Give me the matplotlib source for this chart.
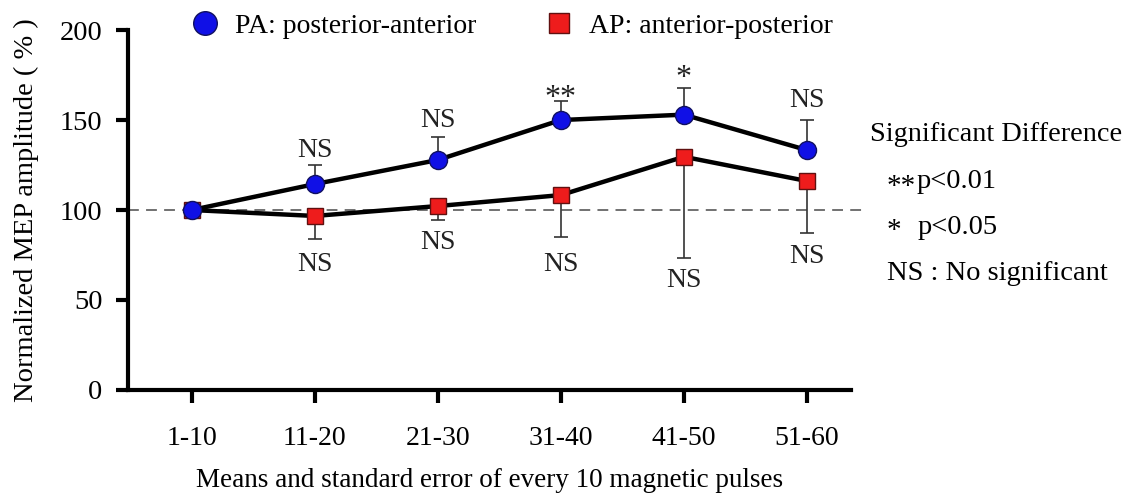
import matplotlib
matplotlib.use("Agg")
import matplotlib.pyplot as plt
from matplotlib.lines import Line2D
import numpy as np

plt.rcParams['font.family'] = ['Liberation Serif', 'DejaVu Serif']

categories = ["1-10", "11-20", "21-30", "31-40", "41-50", "51-60"]
pa_mean = [100, 114.4, 127.8, 150.0, 153.0, 133.3]
pa_err = [0, 10.6, 12.7, 10.5, 15.0, 17.0]
ap_mean = [100, 96.7, 102.2, 108.3, 129.6, 116.1]
ap_err = [0, 12.9, 7.8, 23.1, 56.1, 29.1]
pa_labels = ["", "NS", "NS", "**", "*", "NS"]
ap_labels = ["", "NS", "NS", "NS", "NS", "NS"]
pa_label_y = [None, 133, 150, 162, 173, 161]
ap_label_y = [None, 70, 82, 70, 61, 74]

fig = plt.figure(figsize=(11.29, 4.93), dpi=100)
ax = fig.add_axes([0.113, 0.209, 0.641, 0.730])
x = np.arange(len(categories))

ax.axhline(100, color='#666666', ls=(0, (6, 4)), lw=1.3, zorder=1, clip_on=False, xmax=1.015)

ax.errorbar(x, pa_mean, yerr=[np.zeros(len(x)), pa_err], fmt='none', ecolor='#333333',
            elinewidth=1.2, capsize=5, capthick=1.2, zorder=2)
ax.errorbar(x, ap_mean, yerr=[ap_err, np.zeros(len(x))], fmt='none', ecolor='#333333',
            elinewidth=1.2, capsize=5, capthick=1.2, zorder=2)
ax.plot(x, pa_mean, color='black', lw=3.2, marker='o', ms=13, mfc='#1010e6', mec='#101060',
        mew=1, zorder=4)
ax.plot(x, ap_mean, color='black', lw=3.2, marker='s', ms=11, mfc='#ee1c1c', mec='#601010',
        mew=1, zorder=3)

for i in range(len(x)):
    if pa_labels[i]:
        fs = 23 if '*' in pa_labels[i] else 20
        ax.text(x[i], pa_label_y[i], pa_labels[i], ha='center', va='center', fontsize=fs, color='#222222')
    if ap_labels[i]:
        ax.text(x[i], ap_label_y[i], ap_labels[i], ha='center', va='center', fontsize=20, color='#222222')

ax.set_xlim(-0.52, 5.36)
ax.set_ylim(0, 200)
ax.set_yticks([0, 50, 100, 150, 200])
ax.set_xticks(x)
ax.set_xticklabels(categories)
ax.tick_params(axis='both', labelsize=20.5, width=3, length=9, direction='out', colors='black')
ax.tick_params(axis='x', pad=17, labelsize=20)
ax.tick_params(axis='y', pad=9)
for s in ['top', 'right']:
    ax.spines[s].set_visible(False)
for s in ['left', 'bottom']:
    ax.spines[s].set_linewidth(3)

ax.set_ylabel('Normalized MEP amplitude ( % )', fontsize=20.5, labelpad=15)
ax.set_xlabel('Means and standard error of every 10 magnetic pulses', fontsize=19.5, labelpad=12.5)

handles = [Line2D([], [], ls='none', marker='o', ms=17, mfc='#1010e6', mec='#101060', mew=1),
           Line2D([], [], ls='none', marker='s', ms=15, mfc='#ee1c1c', mec='#601010', mew=1)]
ax.legend(handles, ['PA: posterior-anterior', 'AP: anterior-posterior'],
          loc='lower left', bbox_to_anchor=(0.072, 0.945), ncol=2, frameon=False,
          fontsize=20, handlelength=1.0, handletextpad=0.6, columnspacing=2.45,
          borderaxespad=0)

fig.text(0.771, 0.727, 'Significant Difference', fontsize=20.3, va='center', ha='left')
fig.text(0.785, 0.6075, '**', fontsize=21, va='baseline', ha='left')
fig.text(0.812, 0.6177, 'p<0.01', fontsize=20.5, va='baseline', ha='left')
fig.text(0.785, 0.518, '*', fontsize=21, va='baseline', ha='left')
fig.text(0.813, 0.526, 'p<0.05', fontsize=20.5, va='baseline', ha='left')
fig.text(0.786, 0.446, 'NS : No significant', fontsize=20.5, va='center', ha='left')

fig.savefig('out.png', dpi=100)
